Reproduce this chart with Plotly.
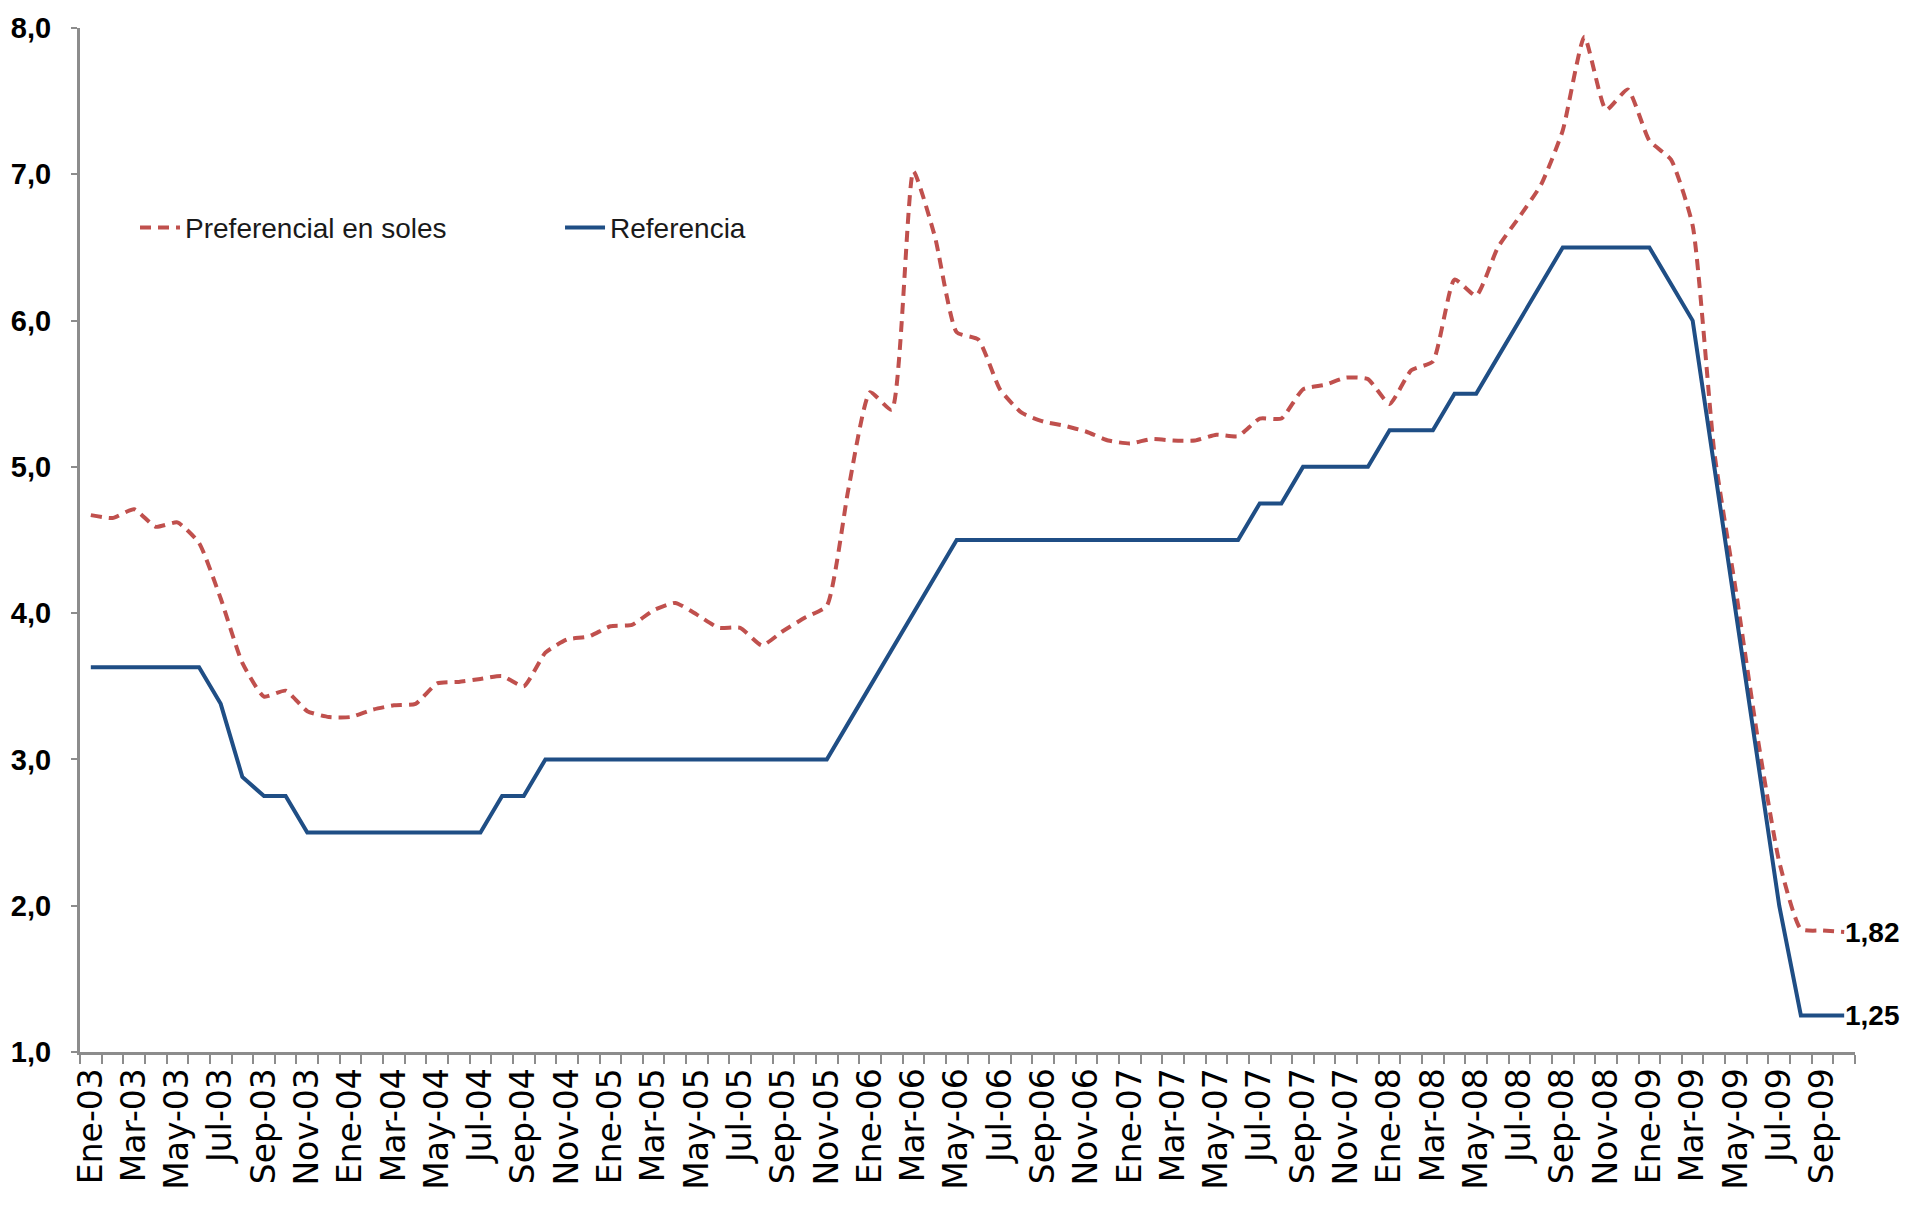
import plotly.graph_objects as go

# ---- data (monthly, Ene-03 .. Oct-09) ----
month_abbr = ["Ene", "Feb", "Mar", "Abr", "May", "Jun", "Jul", "Ago", "Sep", "Oct", "Nov", "Dic"]
years = ["03", "04", "05", "06", "07", "08", "09"]
n_months = 82

preferencial = [
    4.67, 4.65, 4.71, 4.59, 4.62, 4.48, 4.10, 3.66, 3.43, 3.47, 3.33, 3.29,
    3.29, 3.34, 3.37, 3.38, 3.52, 3.53, 3.55, 3.57, 3.50, 3.73, 3.82, 3.84,
    3.91, 3.92, 4.02, 4.07, 3.99, 3.90, 3.90, 3.78, 3.88, 3.97, 4.05, 4.85,
    5.51, 5.39, 7.02, 6.57, 5.92, 5.87, 5.53, 5.37, 5.31, 5.28, 5.24, 5.18,
    5.16, 5.19, 5.18, 5.18, 5.22, 5.21, 5.33, 5.33, 5.53, 5.56, 5.61, 5.60,
    5.43, 5.66, 5.72, 6.28, 6.17, 6.50, 6.71, 6.93, 7.30, 7.94, 7.44, 7.58,
    7.23, 7.10, 6.65, 5.10, 4.15, 3.15, 2.30, 1.84, 1.83, 1.82,
]
referencia = [
    3.63, 3.63, 3.63, 3.63, 3.63, 3.63, 3.38, 2.88, 2.75, 2.75, 2.50, 2.50,
    2.50, 2.50, 2.50, 2.50, 2.50, 2.50, 2.50, 2.75, 2.75, 3.00, 3.00, 3.00,
    3.00, 3.00, 3.00, 3.00, 3.00, 3.00, 3.00, 3.00, 3.00, 3.00, 3.00, 3.25,
    3.50, 3.75, 4.00, 4.25, 4.50, 4.50, 4.50, 4.50, 4.50, 4.50, 4.50, 4.50,
    4.50, 4.50, 4.50, 4.50, 4.50, 4.50, 4.75, 4.75, 5.00, 5.00, 5.00, 5.00,
    5.25, 5.25, 5.25, 5.50, 5.50, 5.75, 6.00, 6.25, 6.50, 6.50, 6.50, 6.50,
    6.50, 6.25, 6.00, 5.00, 4.00, 3.00, 2.00, 1.25, 1.25, 1.25,
]
end_labels = ["1,82", "1,25"]
y_ticks = [1, 2, 3, 4, 5, 6, 7, 8]
y_ticktext = ["1,0", "2,0", "3,0", "4,0", "5,0", "6,0", "7,0", "8,0"]

x = list(range(n_months))
month_labels = [f"{month_abbr[i % 12]}-{years[i // 12]}" for i in x]
tick_idx = x[::2]
tick_text = [month_labels[i] for i in tick_idx]

RED = "#C0504D"
BLUE = "#1F4E85"
AXIS = "#8C8C8C"
NARROW = "Liberation Sans Narrow, Liberation Sans, Arial, sans-serif"

fig = go.Figure()
fig.add_trace(go.Scatter(
    x=x, y=preferencial, mode="lines", name="Preferencial en soles",
    line=dict(color=RED, width=4, dash="11px,7px", shape="spline", smoothing=0.5),
))
fig.add_trace(go.Scatter(
    x=x, y=referencia, mode="lines", name="Referencia",
    line=dict(color=BLUE, width=4),
))

for val, txt in zip([preferencial[-1], referencia[-1]], end_labels):
    fig.add_annotation(
        x=x[-1], y=val, text=txt, showarrow=False, xanchor="left", yanchor="middle",
        xshift=-1, font=dict(family=NARROW, size=28, color="#000000", weight="bold"),
    )

fig.update_layout(
    width=1907, height=1211,
    margin=dict(l=80, r=52, t=28, b=159),
    paper_bgcolor="white", plot_bgcolor="white",
    showlegend=True,
    legend=dict(
        orientation="h", x=0.031, y=0.805, xanchor="left", yanchor="middle",
        entrywidth=370, entrywidthmode="pixels",
        font=dict(family=NARROW, size=28, color="#1a1a1a"),
        bgcolor="rgba(0,0,0,0)", itemwidth=40,
    ),
)
fig.update_xaxes(
    range=[-0.5, n_months - 0.5],
    tickmode="array", tickvals=tick_idx, ticktext=tick_text,
    tickangle=-90, ticks="",
    tickfont=dict(family="DejaVu Sans, Verdana, sans-serif", size=33, color="#000000"),
    showline=True, linecolor=AXIS, linewidth=3,
    showgrid=False, zeroline=False,
    minor=dict(ticks="outside", ticklen=9, tickwidth=1.5, tickcolor=AXIS,
               tick0=-0.5, dtick=1, showgrid=False),
)
fig.update_yaxes(
    range=[1, 8], tickmode="array", tickvals=y_ticks, ticktext=y_ticktext,
    ticks="outside", ticklen=6, tickwidth=1.5, tickcolor=AXIS,
    ticklabelstandoff=14,
    tickfont=dict(family=NARROW, size=29, color="#000000", weight="bold"),
    showline=True, linecolor=AXIS, linewidth=3,
    showgrid=False, zeroline=False,
)

fig.write_html("out.html")
